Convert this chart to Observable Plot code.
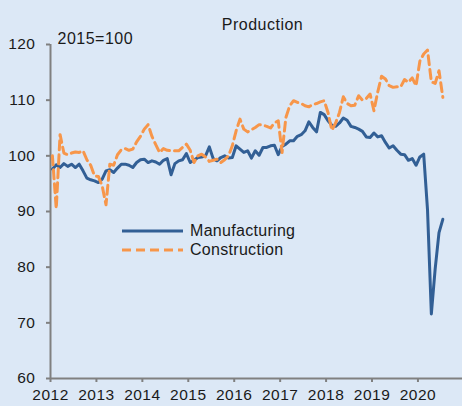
<!DOCTYPE html>
<html>
<head>
<meta charset="utf-8">
<script src="https://cdn.jsdelivr.net/npm/d3@7"></script>
<script src="https://cdn.jsdelivr.net/npm/@observablehq/plot@0.6"></script>
<style>
  html, body { margin: 0; padding: 0; background: #dce8f6; }
  #wrap { position: relative; width: 462px; height: 406px; background: #dce8f6; overflow: hidden;
          font-family: "Liberation Sans", Arial, sans-serif; color: #1a1a1a; }
  #chart svg text { letter-spacing: 0.5px; }
  #legend { position: absolute; left: 122px; top: 221px; font-size: 16px; line-height: 19px; letter-spacing: 0.3px; }
  #legend .row { display: flex; align-items: center; height: 19px; }
  #legend svg { margin-right: 7px; }
</style>
</head>
<body>
<div id="wrap">
  <div id="chart"></div>
  <div id="legend"></div>
</div>
<script>
// ---- data (monthly, Jan 2012 – Jul 2020, 2015=100) ----
const startYear = 2012;
const seriesNames = ["Manufacturing", "Construction"];
const seriesColors = ["#325f95", "#f7964a"];
const xTicks = [2012, 2013, 2014, 2015, 2016, 2017, 2018, 2019, 2020];
const yTicks = [60, 70, 80, 90, 100, 110, 120];

const manufacturing = [
  97.6, 98.4, 97.9, 98.6, 98.1, 98.5, 97.9, 98.5, 97.3, 96.0, 95.7, 95.5,
  95.2, 95.8, 97.3, 97.5, 97.0, 97.8, 98.5, 98.5, 98.3, 97.9, 98.8, 99.3,
  99.4, 98.8, 99.1, 98.9, 98.5, 99.2, 99.5, 96.6, 98.6, 99.1, 99.3, 100.4,
  98.8, 99.2, 99.7, 99.8, 100.0, 101.6, 99.5, 99.1, 99.7, 100.0, 99.6, 99.7,
  101.8, 101.2, 100.6, 100.9, 99.6, 100.9, 100.1, 101.5, 101.5, 101.8, 101.9, 100.2,
  101.7, 102.1, 102.7, 102.7, 103.5, 103.8, 104.5, 106.1, 105.1, 104.3, 107.8, 107.4,
  106.3, 105.5, 105.3, 105.9, 106.8, 106.4, 105.3, 105.1, 104.8, 104.4, 103.4, 103.3,
  104.1, 103.4, 103.6, 102.4, 101.4, 101.8, 101.0, 100.3, 100.2, 99.2, 99.5, 98.3,
  99.8, 100.3, 90.3, 71.6, 79.7, 86.2, 88.6
];
const construction = [
  100.0, 90.5, 103.8, 100.5, 100.2, 100.5, 100.7, 100.6, 100.9, 99.3, 98.3, 96.4,
  96.3, 94.6, 91.2, 98.5, 98.3, 100.2, 101.1, 101.3, 101.0, 101.2, 102.5, 103.5,
  104.8, 105.6, 103.5, 102.0, 100.6, 101.3, 101.0, 100.9, 100.9, 100.9, 101.5, 102.1,
  101.0, 98.8, 100.0, 100.3, 99.8, 99.0, 99.2, 99.4, 98.8, 99.3, 100.0, 101.8,
  104.5, 106.6, 104.8, 104.3, 104.7, 105.1, 105.6, 105.5, 105.3, 105.0, 105.9, 106.3,
  100.6, 106.9, 109.0, 109.9, 109.6, 109.4, 109.0, 108.8, 109.2, 109.4, 109.7, 109.9,
  107.8, 104.6, 105.9, 107.8, 110.6, 109.4, 109.0, 109.1, 110.8, 110.0, 110.3, 111.1,
  108.1, 111.5, 114.3, 113.8, 112.6, 112.3, 112.4, 112.4, 113.7, 113.2, 114.0, 112.6,
  117.0, 118.3, 119.0, 113.3, 113.0, 115.3, 110.5
];

// table for the library: month i plotted at its mid-month position
const toRows = (vals, name) => vals.map((v, i) => ({t: startYear + (i + 0.5) / 12, v, name}));
const rowsM = toRows(manufacturing, seriesNames[0]);
const rowsC = toRows(construction, seriesNames[1]);

const axisColor = "#808080";
const textColor = "#1a1a1a";

const chart = Plot.plot({
  width: 462,
  height: 406,
  marginLeft: 50,
  marginRight: 0,
  marginTop: 44,
  marginBottom: 28,
  style: {background: "transparent", fontFamily: "'Liberation Sans', Arial, sans-serif", fontSize: "15px", color: textColor, overflow: "visible"},
  x: {domain: [2012, 2020.97], label: null},
  y: {domain: [60, 120], label: null},
  marks: [
    Plot.axisY({ticks: yTicks, tickSize: 4, tickPadding: 11, stroke: axisColor, strokeWidth: 2, fill: textColor, fontSize: 15.5, label: null}),
    Plot.axisX({ticks: xTicks, tickSize: 4, tickPadding: 6, stroke: axisColor, strokeWidth: 2, fill: textColor, fontSize: 15.5, tickFormat: d => String(d), label: null}),
    Plot.ruleX([2012], {stroke: axisColor, strokeWidth: 2}),
    Plot.ruleY([60], {stroke: axisColor, strokeWidth: 2}),
    Plot.line(rowsM, {x: "t", y: "v", stroke: seriesColors[0], strokeWidth: 3, strokeLinejoin: "round"}),
    Plot.line(rowsC, {x: "t", y: "v", stroke: seriesColors[1], strokeWidth: 3, strokeDasharray: "9,5"}),
    Plot.text(["Production"], {frameAnchor: "top", dx: 6, dy: -26, fontSize: 16, fill: textColor}),
    Plot.text(["2015=100"], {frameAnchor: "top-left", dx: 7, dy: -12, fontSize: 16, fill: textColor})
  ]
});
document.getElementById("chart").appendChild(chart);

// legend inside the plot area
const legend = document.getElementById("legend");
seriesNames.forEach((name, k) => {
  const row = document.createElement("div");
  row.className = "row";
  const dash = k === 1 ? ' stroke-dasharray="9,5"' : '';
  row.innerHTML = `<svg width="61" height="6"><line x1="0" y1="3" x2="61" y2="3" stroke="${seriesColors[k]}" stroke-width="3"${dash}/></svg><span>${name}</span>`;
  legend.appendChild(row);
});
</script>
</body>
</html>
